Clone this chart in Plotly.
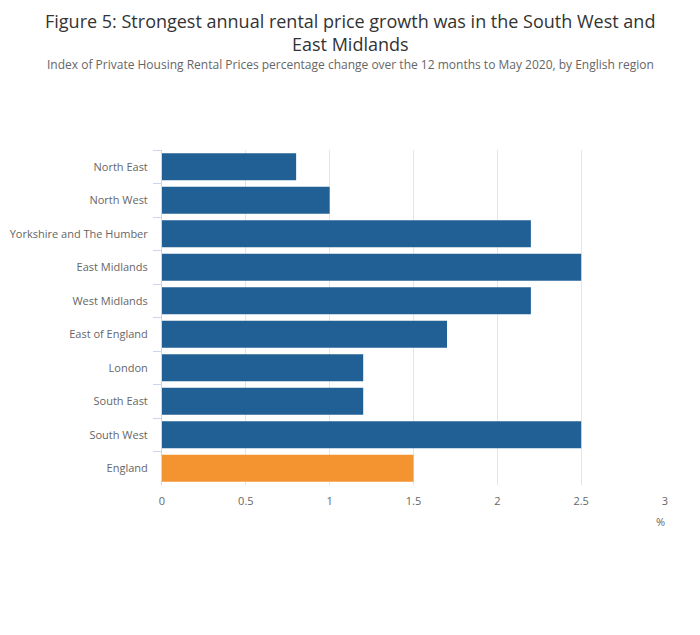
import plotly.graph_objects as go

regions = ["North East", "North West", "Yorkshire and The Humber", "East Midlands",
           "West Midlands", "East of England", "London", "South East", "South West", "England"]
values = [0.8, 1.0, 2.2, 2.5, 2.2, 1.7, 1.2, 1.2, 2.5, 1.5]
colors = ["#206095"] * 9 + ["#f39431"]

W, H = 700, 635
L, R, T, B = 154, 43, 142, 158
plot_w = W - L - R
plot_h = H - T - B

def xpix(px):
    return (px - L) / plot_w

def ypix(py):
    return (H - B - py) / plot_h

fig = go.Figure(go.Bar(
    y=regions, x=values, orientation="h",
    marker=dict(color=colors, line=dict(width=0)),
    hovertemplate="%{y}: %{x}%<extra></extra>",
))

fig.update_layout(
    width=W, height=H,
    margin=dict(l=L, r=R, t=T, b=B, autoexpand=False),
    paper_bgcolor="white", plot_bgcolor="white",
    font=dict(family="Open Sans", color="#666666"),
    bargap=0.2,
    showlegend=False,
    annotations=[
        dict(text="Figure 5: Strongest annual rental price growth was in the South West and",
             x=xpix(342), y=ypix(0), xref="paper", yref="paper", showarrow=False, borderpad=0,
             font=dict(size=18, color="#333333"), xanchor="center", yanchor="top"),
        dict(text="East Midlands",
             x=xpix(342), y=ypix(23), xref="paper", yref="paper", showarrow=False, borderpad=0,
             font=dict(size=18, color="#333333"), xanchor="center", yanchor="top"),
        dict(text="Index of Private Housing Rental Prices percentage change over the 12 months to May 2020, by English region",
             x=xpix(342), y=ypix(56), xref="paper", yref="paper", showarrow=False,
             font=dict(size=12, color="#666666"), xanchor="center", yanchor="middle"),
        dict(text="%", x=xpix(659), y=ypix(513), xref="paper", yref="paper", showarrow=False,
             font=dict(size=11, color="#666666"), xanchor="right", yanchor="middle"),
    ],
)

fig.update_xaxes(
    range=[0, 3], tickvals=[0, 0.5, 1, 1.5, 2, 2.5, 3],
    ticktext=["0", "0.5", "1", "1.5", "2", "2.5", "3"],
    showgrid=True, gridcolor="#e6e6e6", gridwidth=1,
    zeroline=False, showline=False, automargin=False,
    tickfont=dict(size=11, color="#666666"),
    ticks="", ticklabelstandoff=8,
)
fig.update_yaxes(
    autorange="reversed", showline=True, linecolor="#ccd6eb", linewidth=1,
    ticks="outside", tickson="boundaries", ticklen=8, tickcolor="#ccd6eb",
    showgrid=False, tickfont=dict(size=11, color="#666666"),
    ticklabelstandoff=11, automargin=False,
)

fig.write_html("out.html")
